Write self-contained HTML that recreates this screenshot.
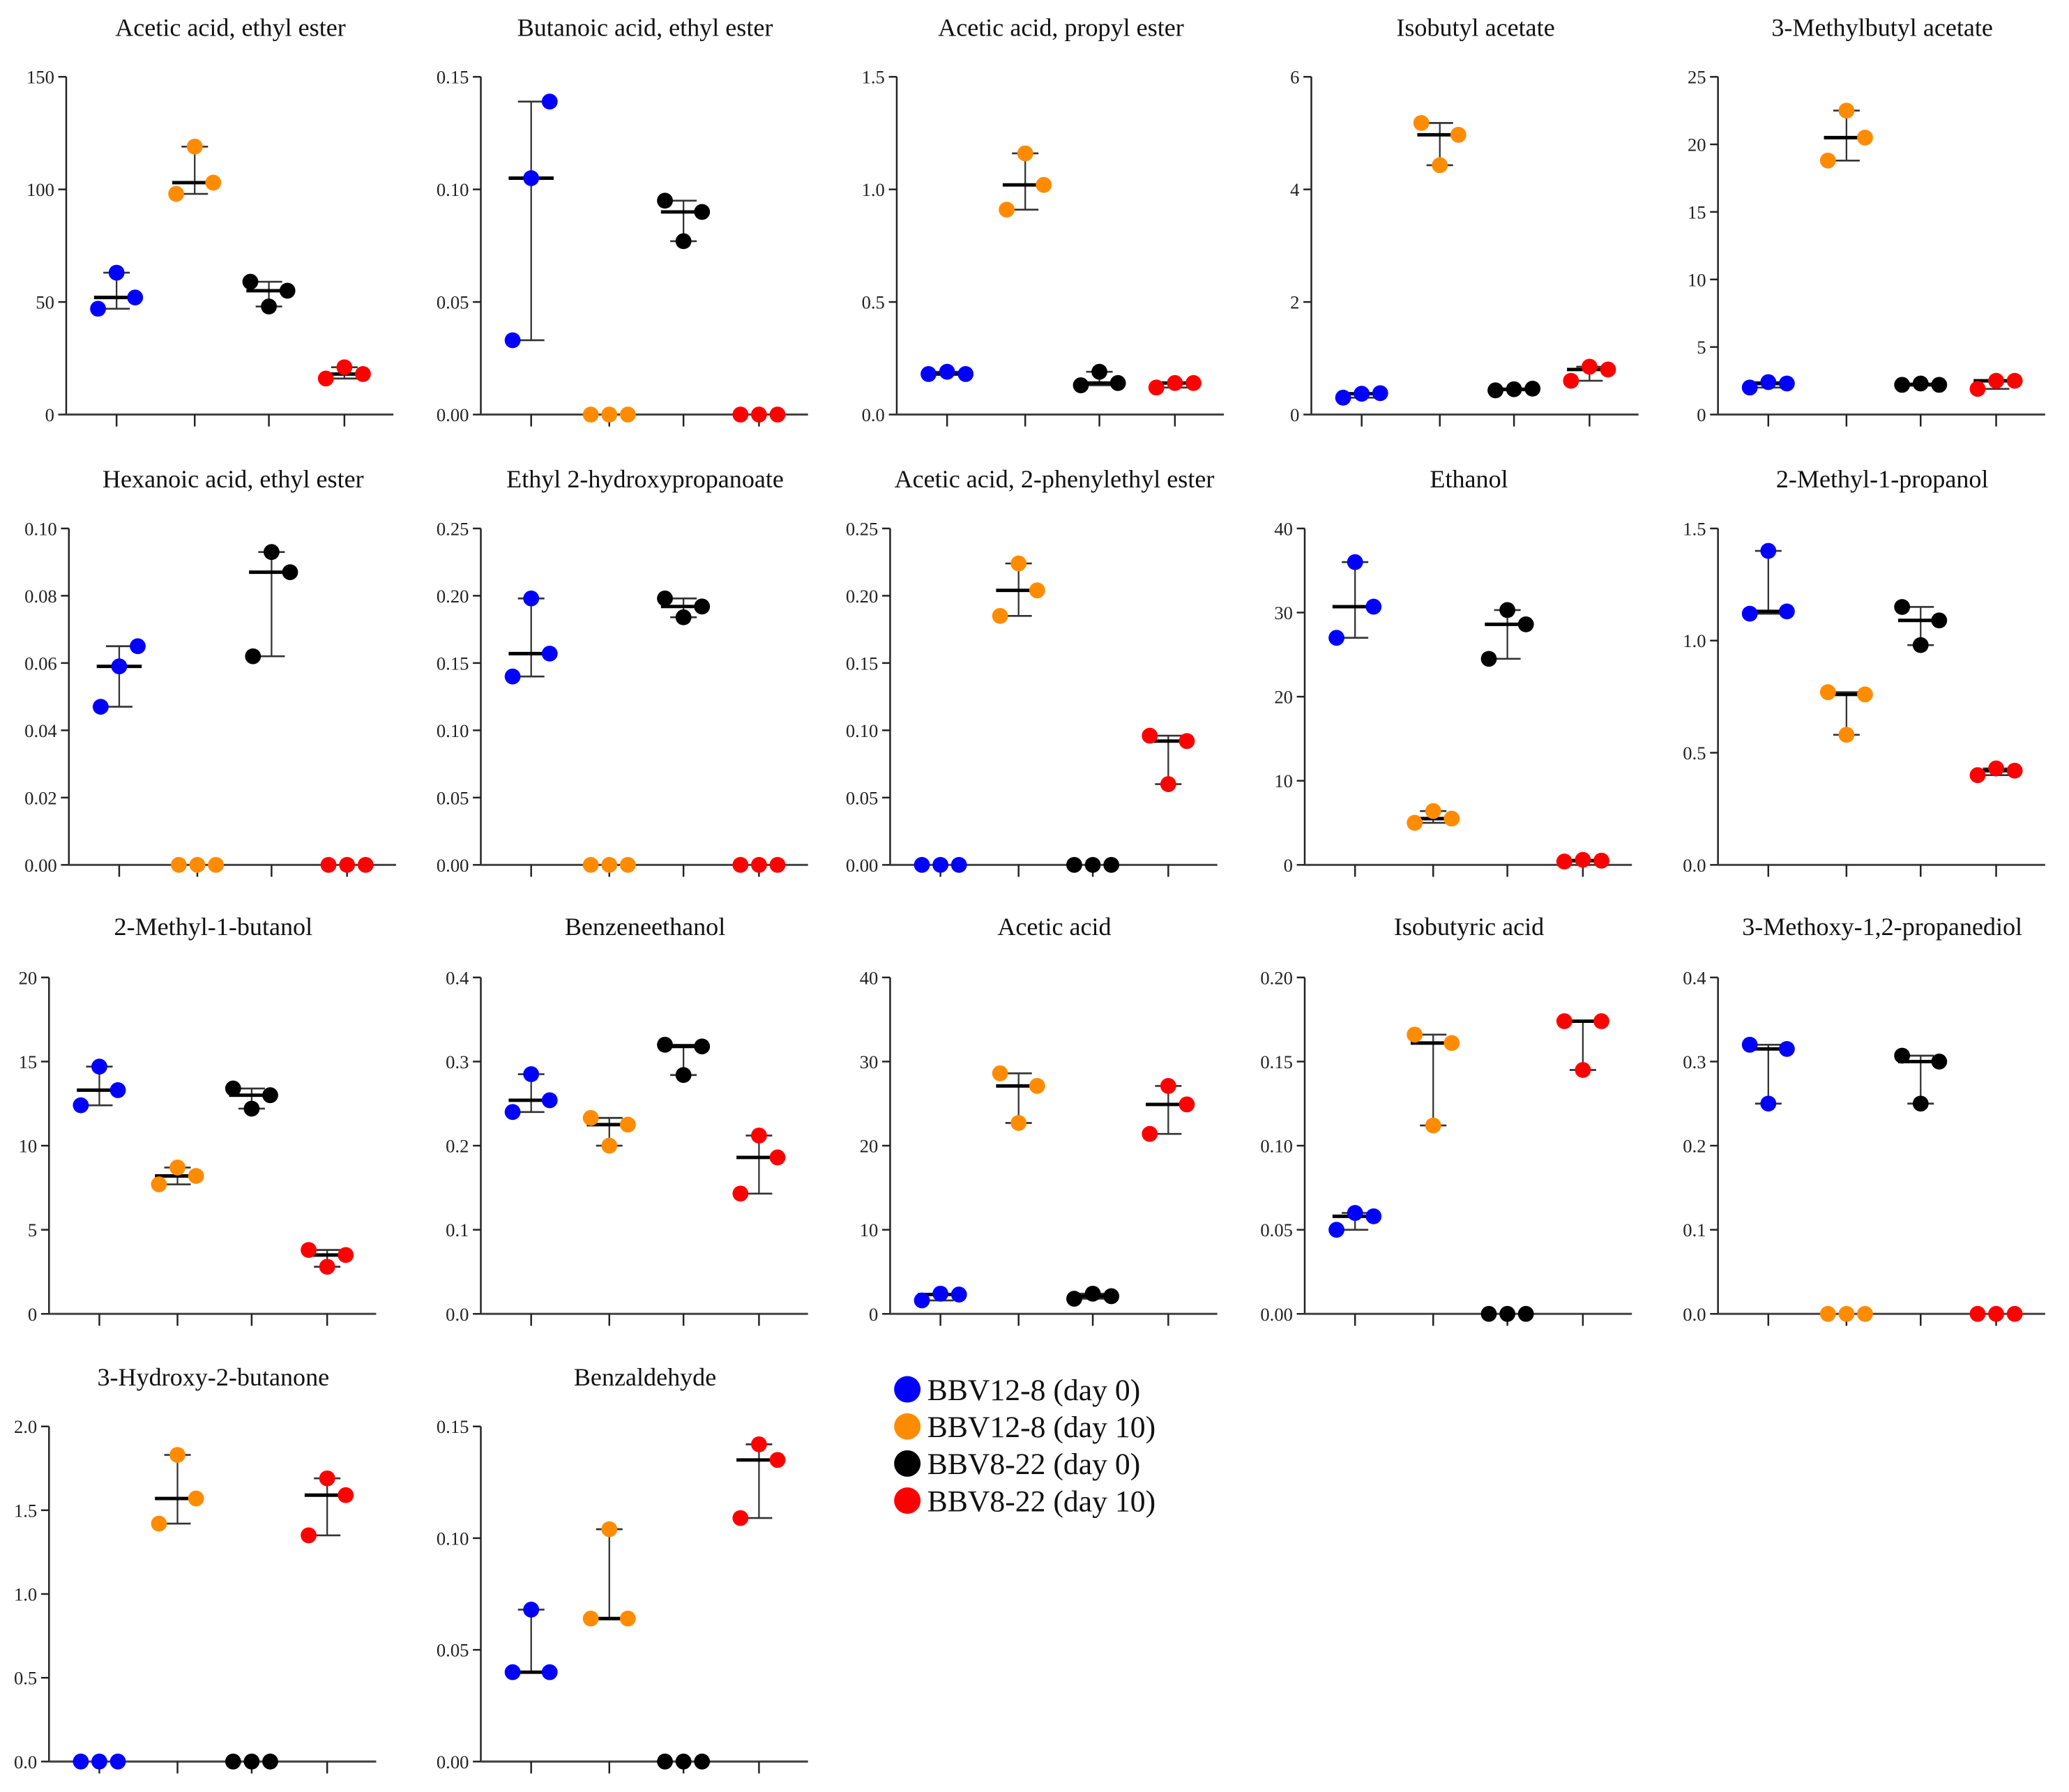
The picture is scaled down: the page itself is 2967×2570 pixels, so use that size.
<!DOCTYPE html>
<html><head><meta charset="utf-8"><style>html,body{margin:0;padding:0;background:#fff}svg{display:block}</style></head>
<body>
<svg id="c" width="2967" height="2570" viewBox="0 0 1562 1353" xmlns="http://www.w3.org/2000/svg" font-family="'Liberation Serif', serif"></svg>
<script>
const titles=["Acetic acid, ethyl ester","Butanoic acid, ethyl ester","Acetic acid, propyl ester","Isobutyl acetate","3-Methylbutyl acetate","Hexanoic acid, ethyl ester","Ethyl 2-hydroxypropanoate","Acetic acid, 2-phenylethyl ester","Ethanol","2-Methyl-1-propanol","2-Methyl-1-butanol","Benzeneethanol","Acetic acid","Isobutyric acid","3-Methoxy-1,2-propanediol","3-Hydroxy-2-butanone","Benzaldehyde"];
const yMax=[150,0.15,1.5,6,25,0.10,0.25,0.25,40,1.5,20,0.4,40,0.20,0.4,2.0,0.15];
const yStep=[50,0.05,0.5,2,5,0.02,0.05,0.05,10,0.5,5,0.1,10,0.05,0.1,0.5,0.05];
const yDec=[0,2,1,0,0,2,2,2,0,1,0,1,0,2,1,1,2];
const seriesBlue=[[47,63,52],[0.033,0.105,0.139],[0.18,0.19,0.18],[0.3,0.37,0.38],[2.0,2.4,2.3],[0.047,0.059,0.065],[0.14,0.198,0.157],[0,0,0],[27,36,30.7],[1.12,1.4,1.13],[12.4,14.7,13.3],[0.24,0.285,0.254],[1.6,2.4,2.3],[0.05,0.06,0.058],[0.32,0.25,0.315],[0,0,0],[0.04,0.068,0.04]];
const seriesOrange=[[98,119,103],[0,0,0],[0.91,1.16,1.02],[5.18,4.43,4.97],[18.8,22.5,20.5],[0,0,0],[0,0,0],[0.185,0.224,0.204],[5,6.4,5.5],[0.77,0.58,0.76],[7.7,8.7,8.2],[0.233,0.2,0.225],[28.6,22.7,27.1],[0.166,0.112,0.161],[0,0,0],[1.42,1.83,1.57],[0.064,0.104,0.064]];
const seriesBlack=[[59,48,55],[0.095,0.077,0.090],[0.13,0.19,0.14],[0.43,0.45,0.46],[2.2,2.3,2.2],[0.062,0.093,0.087],[0.198,0.184,0.192],[0,0,0],[24.5,30.3,28.6],[1.15,0.98,1.09],[13.4,12.2,13.0],[0.32,0.284,0.318],[1.8,2.4,2.1],[0,0,0],[0.307,0.25,0.3],[0,0,0],[0,0,0]];
const seriesRed=[[16,21,18],[0,0,0],[0.12,0.14,0.14],[0.6,0.85,0.8],[1.9,2.5,2.5],[0,0,0],[0,0,0],[0.096,0.06,0.092],[0.4,0.6,0.5],[0.4,0.43,0.42],[3.8,2.8,3.5],[0.143,0.212,0.186],[21.4,27.1,24.9],[0.174,0.145,0.174],[0,0,0],[1.35,1.69,1.59],[0.109,0.142,0.135]];
const groupNames=["BBV12-8 (day 0)","BBV12-8 (day 10)","BBV8-22 (day 0)","BBV8-22 (day 10)"];
const colors=["#0000ff","#ff8c00","#000000","#ff0000"];

const NS="http://www.w3.org/2000/svg";
const svg=document.getElementById('c');
const rowTop=[58,399,738,1077], rowZero=[313,653,992,1330], rowTitle=[27,368,706,1046];
const axX=[50,363,677,990,1297, 52,363,672,985,1297, 37,363,672,985,1297, 37,363];
const catOff=[38,97,153,210];
function mk(tag,attrs,parent){const e=document.createElementNS(NS,tag);for(const k in attrs)e.setAttribute(k,attrs[k]);(parent||svg).appendChild(e);return e;}
const allSeries=[seriesBlue,seriesOrange,seriesBlack,seriesRed];
titles.forEach((t,i)=>{
  const r=Math.floor(i/5), x0=axX[i], top=rowTop[r], zero=rowZero[r];
  const g=mk('g',{});
  
  
  const yS=v=>zero-(v/yMax[i])*(zero-top);
  const tt=mk('text',{x:x0+124,y:rowTitle[r],'font-size':19,'text-anchor':'middle',fill:'#111'},g);tt.textContent=t;
  
  
  const ya=mk('line',{x1:x0,y1:top,x2:x0,y2:zero,stroke:'#222','stroke-width':1.3},g);
  
  
  const xa=mk('line',{x1:x0,y1:zero,x2:x0+247,y2:zero,stroke:'#444','stroke-width':1.6},g);
  
  
  const n=Math.round(yMax[i]/yStep[i]);
  for(let k=0;k<=n;k++){const v=k*yStep[i],y=yS(v);
    mk('line',{x1:x0-6,y1:y,x2:x0,y2:y,stroke:'#222','stroke-width':1.3},g);
    const tl=mk('text',{x:x0-9,y:y+5,'font-size':14,'text-anchor':'end',fill:'#222'},g);tl.textContent=v.toFixed(yDec[i]);
    
    }
  allSeries.forEach((s,gi)=>{
    const cx=x0+catOff[gi], vals=s[i];
    mk('line',{x1:cx,y1:zero,x2:cx,y2:zero+9,stroke:'#222','stroke-width':1.3},g);
    const sorted=[...vals].sort((a,b)=>a-b), mn=sorted[0], md=sorted[1], mx=sorted[2];
    if(mx>mn){
      mk('line',{x1:cx,y1:yS(mn),x2:cx,y2:yS(mx),stroke:'#333','stroke-width':1.2},g);
      mk('line',{x1:cx-10,y1:yS(mn),x2:cx+10,y2:yS(mn),stroke:'#333','stroke-width':1.4},g);
      mk('line',{x1:cx-10,y1:yS(mx),x2:cx+10,y2:yS(mx),stroke:'#333','stroke-width':1.4},g);
    }
    if(md>0){mk('line',{x1:cx-17,y1:yS(md),x2:cx+17,y2:yS(md),stroke:'#000','stroke-width':2.6},g);}
    vals.forEach((v,pi)=>{
      const c=mk('circle',{cx:cx+(pi-1)*14,cy:yS(v),r:6,fill:colors[gi]},g);
      
      
    });
  });
});
const lg=mk('g',{});


groupNames.forEach((nm,gi)=>{
  const y=1049+gi*28;
  const d=mk('circle',{cx:685,cy:y,r:10,fill:colors[gi]},lg);
  
  
  const t=mk('text',{x:700,y:y+8,'font-size':23,fill:'#111'},lg);t.textContent=nm;
  
  
});
</script>
</body></html>
